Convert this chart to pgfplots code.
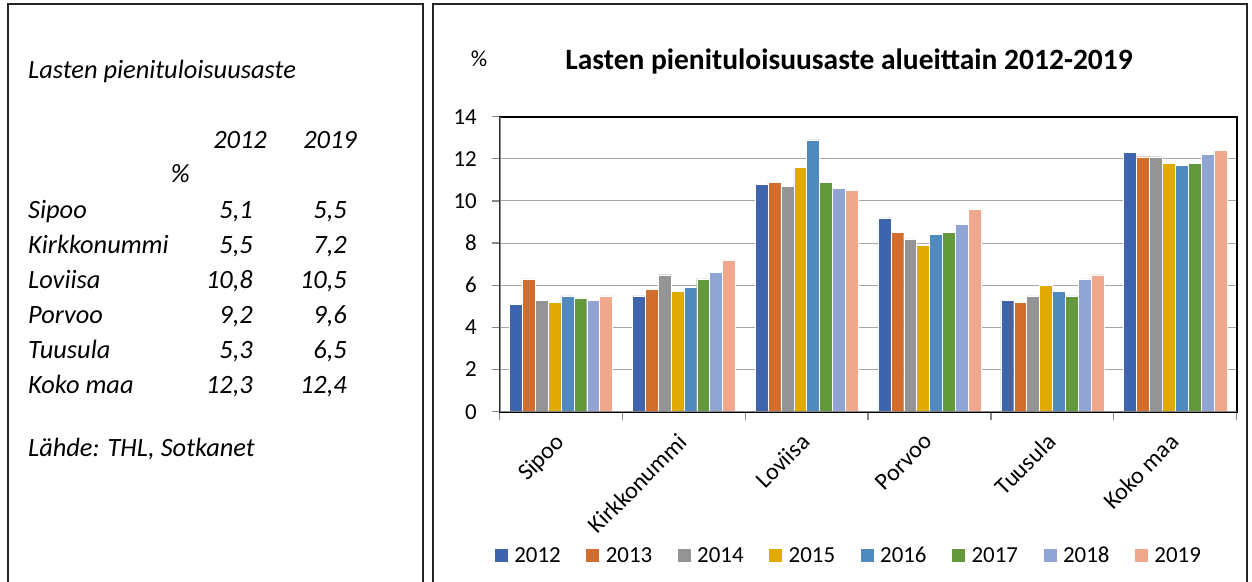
\documentclass[border=0pt]{standalone}
\usepackage{fontspec}
\setmainfont{Carlito}
\usepackage{pgfplots}
\pgfplotsset{compat=1.18}
\usepackage{pgfplotstable}

\definecolor{c2012}{HTML}{3E64AD}
\definecolor{c2013}{HTML}{D26E2D}
\definecolor{c2014}{HTML}{949494}
\definecolor{c2015}{HTML}{E1AA00}
\definecolor{c2016}{HTML}{508ABE}
\definecolor{c2017}{HTML}{64983C}
\definecolor{c2018}{HTML}{91A5D5}
\definecolor{c2019}{HTML}{F0A88C}
\definecolor{gridgray}{HTML}{A6A6A6}
\definecolor{axisgray}{HTML}{868686}
\definecolor{boxgray}{HTML}{262626}

\pgfplotstableread{
idx y2012 y2013 y2014 y2015 y2016 y2017 y2018 y2019
0 5.1 6.3 5.3 5.2 5.5 5.4 5.3 5.5
1 5.5 5.8 6.5 5.7 5.9 6.3 6.6 7.2
2 10.8 10.9 10.7 11.6 12.9 10.9 10.6 10.5
3 9.2 8.5 8.2 7.9 8.4 8.5 8.9 9.6
4 5.3 5.2 5.5 6.0 5.7 5.5 6.3 6.5
5 12.3 12.1 12.1 11.8 11.7 11.8 12.2 12.4
}\data

\newcommand{\cf}{\fontsize{23}{27}\selectfont}
\newcommand{\lf}{\fontsize{26.5}{30}\selectfont\itshape}

\begin{document}
\begin{tikzpicture}
\useasboundingbox (0,0) rectangle (1252bp,582bp);
% panel frames
\draw[line width=2bp, boxgray] (8bp,-10bp) -- (8bp,578bp) -- (423bp,578bp) -- (423bp,-10bp);
\draw[line width=2bp, boxgray] (433bp,-10bp) -- (433bp,578bp) -- (1247bp,578bp) -- (1247bp,-10bp);

% left panel text
\node[anchor=base west, inner sep=0pt, font=\lf] at (28bp,503bp) {Lasten pienituloisuusaste};
\node[anchor=base east, inner sep=0pt, font=\lf] at (267bp,433bp) {2012};
\node[anchor=base east, inner sep=0pt, font=\lf] at (357bp,433bp) {2019};
\node[anchor=base east, inner sep=0pt, font=\lf] at (190bp,399bp) {\%};
\foreach \lab/\a/\b/\yy in {Sipoo/{5,1}/{5,5}/363.5, Kirkkonummi/{5,5}/{7,2}/328.5, Loviisa/{10,8}/{10,5}/293.5, Porvoo/{9,2}/{9,6}/258.5, Tuusula/{5,3}/{6,5}/223.5, {Koko maa}/{12,3}/{12,4}/188}{
  \node[anchor=base west, inner sep=0pt, font=\lf] at (28bp,\yy bp) {\lab};
  \node[anchor=base east, inner sep=0pt, font=\lf] at (253bp,\yy bp) {\a};
  \node[anchor=base east, inner sep=0pt, font=\lf] at (347bp,\yy bp) {\b};
}
\node[anchor=base west, inner sep=0pt, font=\lf] at (28bp,125bp) {Lähde: THL, Sotkanet};

% chart title and unit
\node[anchor=base, inner sep=0pt, font=\fontsize{29.6}{34}\selectfont\bfseries] at (849bp,512bp) {Lasten pienituloisuusaste alueittain 2012-2019};
\node[anchor=base, inner sep=0pt, font=\cf] at (479bp,515bp) {\%};

\begin{axis}[
  at={(499.5bp,170.3bp)}, anchor=south west,
  width=737.2bp, height=295bp, scale only axis,
  xmin=-0.5, xmax=5.5, ymin=0, ymax=14,
  ybar=0pt, bar width=12.9bp,
  xtick={-0.5,0.5,...,5.5},
  xticklabels={Sipoo,Kirkkonummi,Loviisa,Porvoo,Tuusula,Koko maa},
  x tick label as interval,
  ytick={0,2,...,14},
  ymajorgrids, major grid style={gridgray, line width=1bp},
  tick align=outside, tick pos=left, major tick length=8bp,
  tick style={axisgray, line width=1.3bp},
  axis line style={black, line width=2bp},
  /pgf/number format/assume math mode=true,
  ticklabel style={font=\cf},
  yticklabel style={inner sep=0pt, xshift=-14.5bp},
  xticklabel style={rotate=45, anchor=north east, inner sep=0pt, xshift=-13.3bp, yshift=-3.6bp, font=\fontsize{24}{28}\selectfont},
  legend columns=8,
  legend style={at={(0.474,-0.488)}, anchor=center, draw=none, fill=none,
    font=\cf, nodes={inner sep=3bp},
    /tikz/every even column/.append style={column sep=21.6bp}},
  legend image code/.code={\fill[#1] (0bp,-7bp) rectangle (14bp,7bp); \path (17bp,0bp);},
]
\addplot[fill=c2012, draw=white, line width=0.4bp] table[x=idx, y=y2012] {\data};
\addplot[fill=c2013, draw=white, line width=0.4bp] table[x=idx, y=y2013] {\data};
\addplot[fill=c2014, draw=white, line width=0.4bp] table[x=idx, y=y2014] {\data};
\addplot[fill=c2015, draw=white, line width=0.4bp] table[x=idx, y=y2015] {\data};
\addplot[fill=c2016, draw=white, line width=0.4bp] table[x=idx, y=y2016] {\data};
\addplot[fill=c2017, draw=white, line width=0.4bp] table[x=idx, y=y2017] {\data};
\addplot[fill=c2018, draw=white, line width=0.4bp] table[x=idx, y=y2018] {\data};
\addplot[fill=c2019, draw=white, line width=0.4bp] table[x=idx, y=y2019] {\data};
\legend{2012,2013,2014,2015,2016,2017,2018,2019}
\draw[axisgray, line width=2bp] (rel axis cs:0,1) -- (rel axis cs:0,0) -- (rel axis cs:1,0);
\end{axis}
\end{tikzpicture}
\end{document}
